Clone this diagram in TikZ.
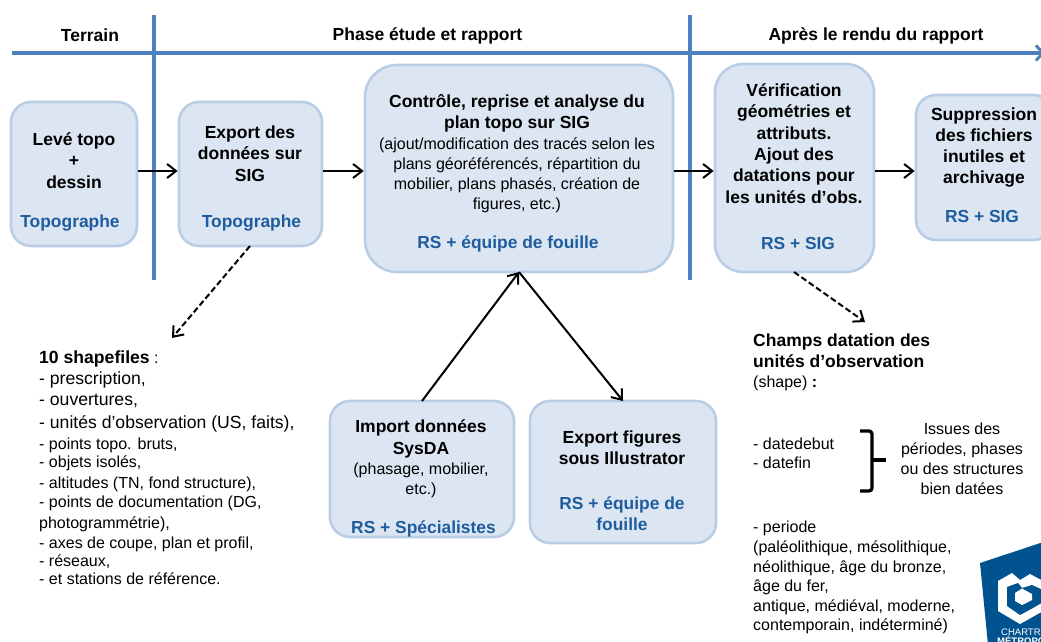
\documentclass[tikz,border=0pt]{standalone}
\usepackage{fontspec}
\setmainfont{Liberation Sans}
\usetikzlibrary{arrows.meta,calc}
\definecolor{boxfill}{HTML}{DCE6F2}
\definecolor{boxline}{HTML}{B9CDE5}
\definecolor{axisblue}{HTML}{4F81BD}
\definecolor{rolecol}{HTML}{1F5C9E}
\definecolor{logoblue}{HTML}{00538F}
\newcommand{\lgr}[1]{{\fontsize{17.6}{20.2}\selectfont #1}}
\tikzset{
  procbox/.style={draw=boxline,fill=boxfill,line width=2.6pt,rounded corners=20pt,inner sep=0pt},
  head/.style={font=\fontsize{17.5}{21.3}\selectfont\bfseries,align=center,inner sep=0pt},
  role/.style={font=\fontsize{17.4}{21.3}\selectfont\bfseries,text=rolecol,align=center,inner sep=0pt},
  sub/.style={font=\fontsize{16}{20}\selectfont,align=center,inner sep=0pt},
  notes/.style={font=\fontsize{16}{20.2}\selectfont,align=left,inner sep=0pt,anchor=north west},
  axis/.style={draw=axisblue,line width=3.4pt},
  flow/.style={draw=black,line width=2pt,-{Straight Barb[length=9pt,width=14pt,line width=2pt]}},
  flowd/.style={flow,dash pattern=on 6pt off 3pt}
}
\begin{document}
\begin{tikzpicture}[x=1pt,y=-1pt]
\useasboundingbox (0,0) rectangle (1041,642);
% axes
\coordinate (ax0) at (12,53);
\coordinate (ax1) at (1045,53);
\coordinate (v1a) at (154,15);
\coordinate (v1b) at (154,280);
\coordinate (v2a) at (690,15);
\coordinate (v2b) at (690,280);
\draw[axis,-{Straight Barb[length=7pt,width=15pt,line width=3pt]}] (ax0) -- (ax1);
\draw[axis] (v1a) -- (v1b);
\draw[axis] (v2a) -- (v2b);
\node[head] at (90,35.5) {Terrain};
\node[head] at (427.5,35.5) {Phase étude et rapport};
\node[head] at (876,35.5) {Après le rendu du rapport};
% boxes
\node[procbox,minimum width=126pt,minimum height=144pt] (a) at (74,174) {};
\node[procbox,minimum width=143pt,minimum height=144pt] (b) at (250.5,174) {};
\node[procbox,minimum width=308pt,minimum height=207pt,rounded corners=32pt] (c) at (519,168.5) {};
\node[procbox,minimum width=159pt,minimum height=208pt,rounded corners=28pt] (d) at (794.5,168) {};
\node[procbox,minimum width=138pt,minimum height=145pt] (e) at (985,167.5) {};
\node[procbox,minimum width=184pt,minimum height=136pt] (f) at (422,469) {};
\node[procbox,minimum width=186pt,minimum height=142pt] (g) at (623,472) {};
% box texts
\node[head] (ta) at (74,160.5) {Levé topo\\+\\dessin};
\node[role] (ra) at (70,223.5) {Topographe};
\node[head] (tb) at (250,153.5) {Export des\\données sur\\SIG};
\node[role] (rb) at (251.5,223.5) {Topographe};
\node[head] (tc) at (517,113.5) {Contrôle, reprise et analyse du\\plan topo sur SIG};
\node[sub] (sc) at (517,175) {(ajout/modification des tracés selon les\\plans géoréférencés, répartition du\\mobilier, plans phasés, création de\\figures, etc.)};
\node[role] (rc) at (508,243.5) {RS + équipe de fouille};
\node[head] (td) at (794,143.5) {Vérification\\géométries et\\attributs.\\Ajout des\\datations pour\\les unités d’obs.};
\node[role] (rd) at (798,243.5) {RS + SIG};
\node[head] (te) at (984,147.5) {Suppression\\des fichiers\\inutiles et\\archivage};
\node[role] (re) at (982,216.5) {RS + SIG};
\node[head] (tf) at (421,439) {Import données\\SysDA};
\node[sub] (sf) at (421,480) {(phasage, mobilier,\\etc.)};
\node[role] (rf) at (423.5,529) {RS + Spécialistes};
\node[head] (tg) at (622,448) {Export figures\\sous Illustrator};
\node[role] (rg) at (622,513.5) {RS + équipe de\\fouille};
% notes
\node[notes] (n1) at (39,350.5) {\lgr{\textbf{10 shapefiles}} :\\[0.8pt]\lgr{- prescription,}\\[0.8pt]\lgr{- ouvertures,}\\[2.8pt]\lgr{- unités d’observation (US, faits),}\\[1.3pt]- points topo. bruts,\\[-2.2pt]- objets isolés,\\[0.8pt]- altitudes (TN, fond structure),\\[-1.2pt]- points de documentation (DG,\\[0.8pt]photogrammétrie),\\[-0.2pt]- axes de coupe, plan et profil,\\[-2.2pt]- réseaux,\\[-2.2pt]- et stations de référence.};
\node[notes,font=\fontsize{17.5}{21.5}\selectfont\bfseries] (n2) at (753,333.5) {Champs datation des\\unités d’observation};
\node[notes] (n3) at (753,376) {(shape) \textbf{:}};
\node[notes,font=\fontsize{16}{19.5}\selectfont] (n4) at (753,437.5) {- datedebut\\- datefin};
\node[sub] (n5) at (962,458.5) {Issues des\\périodes, phases\\ou des structures\\bien datées};
\node[notes,font=\fontsize{16}{19.6}\selectfont] (n6) at (753,521) {- periode\\(paléolithique, mésolithique,\\néolithique, âge du bronze,\\âge du fer,\\antique, médiéval, moderne,\\contemporain, indéterminé)};
% brace
\coordinate (br1) at (860,431);
\coordinate (br2) at (860,491);
\coordinate (brc) at (872,461);
\coordinate (brm) at (886,460);
\draw[line width=3.2pt,rounded corners=3pt] (br1) -- (872,431) -- (872,491) -- (br2);
\draw[line width=3.2pt] (brc|-brm) -- (brm);
% connectors
\draw[flow] (a.east|-0,171) -- (b.west|-0,171);
\draw[flow] (b.east|-0,171) -- (c.west|-0,171);
\draw[flow] (c.east|-0,171) -- (d.west|-0,171);
\draw[flow] (d.east|-0,171) -- (e.west|-0,171);
\coordinate (fs) at (422,401);
\coordinate (ct) at (519,272);
\coordinate (gt) at (623,401);
\draw[flow] (fs) -- (ct);
\draw[flow] (ct) -- (gt);
\coordinate (bs) at (250,246);
\coordinate (be) at (172,338);
\coordinate (ds) at (794,272);
\coordinate (de) at (865,322);
\draw[flowd] (bs) -- (be);
\draw[flowd] (ds) -- (de);
% logo
\fill[logoblue] (980,563) -- (1045,541.5) -- (1045,645) -- (988,645) -- cycle;
\fill[white] (1012,573) -- (998,581) -- (998,611) -- (1020,624) -- (1045,610) -- (1045,582) -- (1030,574) -- (1020,580) -- cycle;
\fill[logoblue] (1018,583) -- (1007,587) -- (1007,606) -- (1020,615) -- (1033,608) -- (1045,601) -- (1045,591) -- (1032,585) -- (1022,588) -- cycle;
\fill[white] (1015,593) -- (1022,588.5) -- (1032,594) -- (1032,600) -- (1022,605) -- (1015,601) -- cycle;
\node[font=\fontsize{9.5}{9.5}\selectfont,text=white,inner sep=0pt,anchor=west] (l1) at (1001,632) {CHARTRES};
\node[font=\fontsize{9.5}{9.5}\selectfont\bfseries,text=white,inner sep=0pt,anchor=west] (l2) at (997,640.5) {MÉTROPOLE};
\end{tikzpicture}
\end{document}
